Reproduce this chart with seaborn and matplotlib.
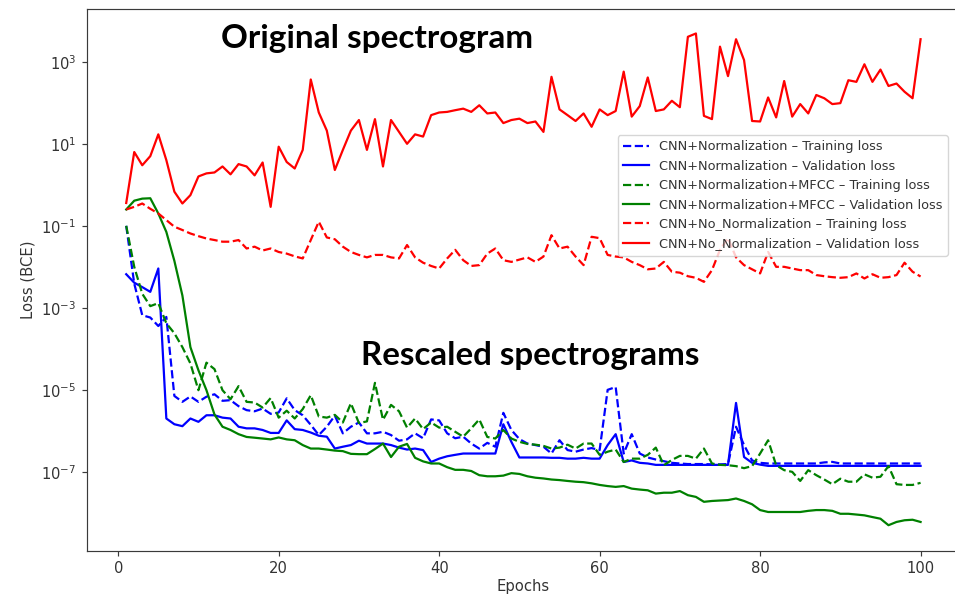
import matplotlib
matplotlib.use("Agg")
import matplotlib.pyplot as plt
from matplotlib.ticker import NullLocator
import seaborn as sns

# ---- data: loss per epoch (binary cross-entropy) ----
epochs = list(range(1, 101))

norm_train = [
    1.0e-1, 3.9e-3, 6.6e-4, 5.8e-4, 3.6e-4, 6.0e-4, 7.1e-6, 5.1e-6, 6.9e-6, 5.1e-6,
    6.8e-6, 7.8e-6, 5.4e-6, 5.6e-6, 4.0e-6, 3.2e-6, 3.0e-6, 3.5e-6, 2.6e-6, 2.8e-6,
    6.2e-6, 3.2e-6, 2.4e-6, 1.4e-6, 7.9e-7, 1.26e-6, 2.35e-6, 8.7e-7, 1.26e-6, 1.6e-6,
    8.7e-7, 8.7e-7, 9.5e-7, 7.9e-7, 5.75e-7, 6.2e-7, 8.7e-7, 6.6e-7, 1.9e-6, 1.8e-6,
    8.7e-7, 6.6e-7, 7.2e-7, 4.9e-7, 3.7e-7, 5.1e-7, 4.1e-7, 2.75e-6, 1.05e-6, 6.3e-7,
    4.9e-7, 4.5e-7, 4.1e-7, 2.8e-7, 5.9e-7, 3.4e-7, 3.1e-7, 3.5e-7, 3.8e-7, 3.4e-7,
    1.0e-5, 1.17e-5, 2.8e-7, 8.3e-7, 2.8e-7, 2.24e-7, 2.0e-7, 1.82e-7, 1.66e-7, 1.6e-7,
    1.55e-7, 1.55e-7, 1.55e-7, 1.52e-7, 1.52e-7, 1.55e-7, 1.26e-6, 4.5e-7, 1.9e-7, 1.66e-7,
    1.6e-7, 1.6e-7, 1.6e-7, 1.6e-7, 1.6e-7, 1.6e-7, 1.6e-7, 1.7e-7, 1.75e-7, 1.6e-7,
    1.6e-7, 1.6e-7, 1.6e-7, 1.6e-7, 1.6e-7, 1.6e-7, 1.6e-7, 1.6e-7, 1.6e-7, 1.6e-7,
]

norm_val = [
    6.6e-3, 4.1e-3, 3.2e-3, 2.45e-3, 9.1e-3, 2.0e-6, 1.45e-6, 1.3e-6, 2.0e-6, 1.66e-6,
    2.4e-6, 2.4e-6, 2.1e-6, 2.0e-6, 1.26e-6, 1.15e-6, 1.15e-6, 1.05e-6, 8.9e-7, 8.9e-7,
    1.8e-6, 1.1e-6, 1.05e-6, 9.1e-7, 7.6e-7, 7.2e-7, 3.7e-7, 4.1e-7, 4.5e-7, 5.75e-7,
    4.9e-7, 4.9e-7, 4.9e-7, 4.5e-7, 3.9e-7, 3.5e-7, 3.7e-7, 3.4e-7, 1.74e-7, 2.1e-7,
    2.4e-7, 2.6e-7, 2.8e-7, 2.8e-7, 2.8e-7, 2.8e-7, 2.8e-7, 1.45e-6, 5.4e-7, 2.24e-7,
    2.24e-7, 2.24e-7, 2.24e-7, 2.2e-7, 2.2e-7, 2.1e-7, 2.1e-7, 2.2e-7, 2.1e-7, 2.1e-7,
    4.5e-7, 8.3e-7, 1.74e-7, 1.9e-7, 1.66e-7, 1.6e-7, 1.48e-7, 1.48e-7, 1.48e-7, 1.48e-7,
    1.48e-7, 1.48e-7, 1.48e-7, 1.48e-7, 1.48e-7, 1.48e-7, 4.8e-6, 2.3e-7, 1.66e-7, 1.5e-7,
    1.4e-7, 1.4e-7, 1.4e-7, 1.4e-7, 1.4e-7, 1.4e-7, 1.4e-7, 1.4e-7, 1.4e-7, 1.4e-7,
    1.4e-7, 1.4e-7, 1.4e-7, 1.4e-7, 1.4e-7, 1.4e-7, 1.4e-7, 1.4e-7, 1.4e-7, 1.4e-7,
]

mfcc_train = [
    1.0e-1, 1.0e-2, 2.2e-3, 1.1e-3, 1.3e-3, 4.2e-4, 2.4e-4, 1.1e-4, 4.4e-5, 9.8e-6,
    4.6e-5, 3.2e-5, 9.8e-6, 5.9e-6, 1.23e-5, 5.1e-6, 4.9e-6, 3.7e-6, 6.3e-6, 2.1e-6,
    3.1e-6, 2.0e-6, 3.4e-6, 7.4e-6, 2.24e-6, 2.1e-6, 2.45e-6, 1.6e-6, 4.7e-6, 1.55e-6,
    1.7e-6, 1.48e-5, 1.86e-6, 4.3e-6, 3.0e-6, 1.2e-6, 2.0e-6, 1.1e-6, 1.6e-6, 1.2e-6,
    1.26e-6, 9.5e-7, 7.2e-7, 1.15e-6, 1.9e-6, 7.1e-7, 6.5e-7, 1.05e-6, 6.5e-7, 5.4e-7,
    4.8e-7, 4.6e-7, 4.3e-7, 3.7e-7, 3.9e-7, 4.6e-7, 3.7e-7, 4.9e-7, 4.9e-7, 2.6e-7,
    3.1e-7, 3.5e-7, 1.74e-7, 2.1e-7, 2.1e-7, 2.6e-7, 3.9e-7, 1.45e-7, 1.95e-7, 2.45e-7,
    2.45e-7, 2.1e-7, 3.7e-7, 1.6e-7, 1.48e-7, 1.45e-7, 1.38e-7, 1.23e-7, 1.38e-7, 2.8e-7,
    5.9e-7, 1.45e-7, 1.1e-7, 1.0e-7, 6.0e-8, 1.1e-7, 8.3e-8, 6.5e-8, 5.0e-8, 6.8e-8,
    5.75e-8, 5.75e-8, 8.7e-8, 7.2e-8, 7.6e-8, 1.38e-7, 5.0e-8, 4.8e-8, 4.8e-8, 5.4e-8,
]

mfcc_val = [
    2.5e-1, 4.1e-1, 4.6e-1, 4.7e-1, 2.0e-1, 7.1e-2, 1.4e-2, 2.0e-3, 1.1e-4, 3.0e-5,
    9.8e-6, 2.5e-6, 1.26e-6, 1.05e-6, 8.3e-7, 7.1e-7, 6.8e-7, 6.5e-7, 6.2e-7, 6.9e-7,
    6.2e-7, 5.9e-7, 4.5e-7, 3.7e-7, 3.7e-7, 3.5e-7, 3.3e-7, 3.2e-7, 2.75e-7, 2.7e-7,
    2.7e-7, 3.6e-7, 4.9e-7, 2.3e-7, 4.1e-7, 4.8e-7, 2.2e-7, 1.8e-7, 1.6e-7, 1.6e-7,
    1.3e-7, 1.12e-7, 1.12e-7, 1.05e-7, 8.3e-8, 7.8e-8, 7.8e-8, 8.1e-8, 9.3e-8, 8.9e-8,
    7.8e-8, 7.2e-8, 6.9e-8, 6.5e-8, 6.3e-8, 6.0e-8, 5.75e-8, 5.6e-8, 5.25e-8, 4.8e-8,
    4.5e-8, 4.3e-8, 4.5e-8, 3.9e-8, 3.7e-8, 3.55e-8, 2.95e-8, 3.1e-8, 3.1e-8, 3.4e-8,
    2.7e-8, 2.45e-8, 1.86e-8, 1.95e-8, 2.0e-8, 2.05e-8, 2.24e-8, 1.95e-8, 1.62e-8, 1.17e-8,
    1.05e-8, 1.05e-8, 1.05e-8, 1.05e-8, 1.05e-8, 1.12e-8, 1.17e-8, 1.17e-8, 1.12e-8, 9.5e-9,
    9.5e-9, 9.1e-9, 8.7e-9, 7.9e-9, 7.2e-9, 5.0e-9, 6.0e-9, 6.6e-9, 6.8e-9, 6.0e-9,
]

nonorm_train = [
    2.5e-1, 2.9e-1, 3.5e-1, 2.6e-1, 2.0e-1, 1.38e-1, 9.5e-2, 7.9e-2, 6.5e-2, 5.6e-2,
    4.9e-2, 4.5e-2, 4.1e-2, 4.1e-2, 4.5e-2, 2.8e-2, 3.1e-2, 2.5e-2, 2.8e-2, 2.3e-2,
    2.1e-2, 1.8e-2, 1.6e-2, 4.5e-2, 1.26e-1, 5.2e-2, 4.7e-2, 3.1e-2, 2.3e-2, 1.95e-2,
    1.7e-2, 1.95e-2, 1.95e-2, 1.7e-2, 1.6e-2, 3.4e-2, 1.7e-2, 1.26e-2, 1.05e-2, 9.1e-3,
    1.6e-2, 2.6e-2, 1.45e-2, 1.05e-2, 1.1e-2, 2.1e-2, 2.8e-2, 1.45e-2, 1.32e-2, 1.5e-2,
    1.7e-2, 1.32e-2, 1.78e-2, 5.9e-2, 2.8e-2, 3.1e-2, 1.78e-2, 1.1e-2, 5.4e-2, 5.0e-2,
    1.95e-2, 1.78e-2, 1.7e-2, 1.32e-2, 1.1e-2, 8.7e-3, 9.1e-3, 1.32e-2, 7.6e-3, 7.2e-3,
    5.9e-3, 5.4e-3, 4.3e-3, 8.3e-3, 2.6e-2, 5.0e-2, 1.7e-2, 1.1e-2, 8.7e-3, 6.9e-3,
    2.3e-2, 1.0e-2, 1.0e-2, 9.1e-3, 8.3e-3, 8.3e-3, 6.3e-3, 5.9e-3, 5.6e-3, 5.4e-3,
    5.6e-3, 6.9e-3, 5.2e-3, 6.6e-3, 5.4e-3, 5.6e-3, 6.3e-3, 1.26e-2, 7.6e-3, 5.8e-3,
]

nonorm_val = [
    0.36, 6.3, 3.0, 5.0, 17.0, 4.0, 0.68, 0.35, 0.56, 1.6,
    1.9, 2.0, 2.8, 1.8, 3.2, 2.8, 1.7, 3.5, 0.29, 8.5,
    3.6, 2.5, 7.1, 370.0, 58.0, 21.0, 2.3, 7.1, 21.0, 38.0,
    7.1, 40.0, 2.8, 38.0, 19.5, 10.0, 17.0, 15.0, 50.0, 58.0,
    60.0, 66.0, 72.0, 60.0, 87.0, 55.0, 58.0, 32.0, 38.0, 41.0,
    32.0, 35.0, 19.5, 430.0, 69.0, 50.0, 36.0, 55.0, 26.0, 69.0,
    50.0, 63.0, 575.0, 46.0, 83.0, 415.0, 63.0, 69.0, 112.0, 78.0,
    4070.0, 4900.0, 48.0, 40.0, 2340.0, 447.0, 3550.0, 1100.0, 36.0, 35.0,
    135.0, 44.0, 340.0, 46.0, 93.0, 55.0, 155.0, 129.0, 93.0, 98.0,
    355.0, 324.0, 870.0, 324.0, 646.0, 257.0, 295.0, 186.0, 129.0, 3550.0,
]

series_labels = [
    "CNN+Normalization – Training loss",
    "CNN+Normalization – Validation loss",
    "CNN+Normalization+MFCC – Training loss",
    "CNN+Normalization+MFCC – Validation loss",
    "CNN+No_Normalization – Training loss",
    "CNN+No_Normalization – Validation loss",
]
series_values = [norm_train, norm_val, mfcc_train, mfcc_val, nonorm_train, nonorm_val]
series_colors = ["blue", "blue", "green", "green", "red", "red"]
series_styles = ["--", "-", "--", "-", "--", "-"]

x_ticks = [0, 20, 40, 60, 80, 100]
caption_top = "Original spectrogram"
caption_bottom = "Rescaled spectrograms"

# ---- figure layout (pixel based) ----
W, H = 955, 597
DPI = 100
plt.rcParams.update({
    "font.family": ["DejaVu Sans"],
    "font.size": 10.6,
    "axes.linewidth": 0.85,
    "axes.edgecolor": "#3a3a3a",
    "xtick.major.size": 3.7,
    "ytick.major.size": 3.7,
    "xtick.major.width": 0.85,
    "ytick.major.width": 0.85,
    "xtick.color": "#3a3a3a",
    "ytick.color": "#3a3a3a",
    "xtick.labelcolor": "#333333",
    "ytick.labelcolor": "#333333",
    "axes.labelcolor": "#333333",
})

fig = plt.figure(figsize=(W / DPI, H / DPI), dpi=DPI)
fig.patch.set_facecolor("white")

ax_left, ax_right, ax_top, ax_bottom = 86.5, 960.3, 9.3, 551.0
ax = fig.add_axes([ax_left / W, 1 - ax_bottom / H,
                   (ax_right - ax_left) / W, (ax_bottom - ax_top) / H])
ax.set_yscale("log")

for label, vals, color, ls in zip(series_labels, series_values, series_colors, series_styles):
    sns.lineplot(x=epochs, y=vals, ax=ax, color=color, linestyle=ls,
                 linewidth=1.6, label=label, legend=False)

ax.set_xlim(-3.95, 104.95)
ax.set_ylim(10 ** -8.93, 10 ** 4.28)
ax.set_xticks(x_ticks)
ax.yaxis.set_minor_locator(NullLocator())
ax.set_xlabel("Epochs", fontsize=10.6, labelpad=2.5)
ax.set_ylabel("Loss (BCE)", fontsize=10.6, labelpad=4)

handles, labels = ax.get_legend_handles_labels()
leg = ax.legend(handles, labels, loc="upper left",
                bbox_to_anchor=(617.7 / W, 1 - 135.0 / H),
                bbox_transform=fig.transFigure, borderaxespad=0,
                fontsize=9.3, framealpha=0.8, edgecolor="0.8")
for t in leg.get_texts():
    t.set_color("#333333")

# ---- bold captions, sized to their target width ----
renderer = fig.canvas.get_renderer()


def caption(text, cx, baseline, width_px):
    t = fig.text(cx / W, 1 - baseline / H, text, ha="center", va="baseline",
                 family=["Lato", "DejaVu Sans"], fontweight="bold",
                 fontsize=24, color="black")
    w = t.get_window_extent(renderer).width
    t.set_fontsize(24 * width_px / w)
    return t


caption(caption_top, 377.0, 48.0, 312.0)
caption(caption_bottom, 530.0, 365.0, 340.0)

fig.savefig("out.png", dpi=DPI, facecolor="white")
